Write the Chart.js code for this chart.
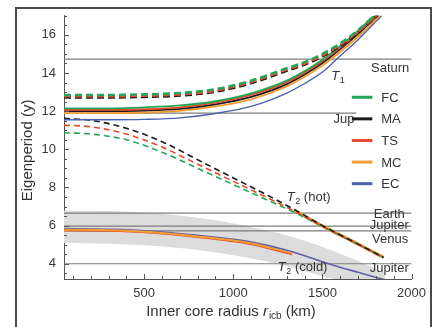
<!DOCTYPE html>
<html>
<head>
<meta charset="utf-8">
<script src="https://cdn.jsdelivr.net/npm/chart.js@4/dist/chart.umd.min.js"></script>
<style>
  html, body { margin: 0; padding: 0; background: #fff; overflow: hidden; }
  canvas { display: block; }
</style>
</head>
<body>
<canvas id="c" width="433" height="327"></canvas>
<script>
// Core compositions and their colours
const seriesNames  = ['FC', 'MA', 'TS', 'MC', 'EC'];
const seriesColors = { FC: '#22a65a', MA: '#1c1c1c', TS: '#e8482c', MC: '#f39c32', EC: '#4b62ad' };

// Axis ticks
const xTickValues = [500, 1000, 1500, 2000];
const yTickValues = [4, 6, 8, 10, 12, 14, 16];

// T1 branch (inner core radius in km -> period in years), solid curves
const t1X    = [50, 300, 500, 700, 900, 1100, 1300, 1400, 1500, 1600, 1700, 1800, 1850];
const t1FC   = [12.15, 12.15, 12.20, 12.30, 12.52, 12.93, 13.60, 14.10, 14.70, 15.42, 16.22, 17.10, 17.55];
const t1TS   = [12.07, 12.07, 12.10, 12.20, 12.45, 12.85, 13.52, 14.02, 14.62, 15.33, 16.12, 17.00, 17.45];
const t1MA   = [12.00, 12.00, 12.03, 12.12, 12.36, 12.75, 13.42, 13.92, 14.52, 15.25, 16.05, 16.95, 17.40];
const t1MC   = [11.90, 11.90, 11.93, 12.02, 12.25, 12.62, 13.30, 13.80, 14.40, 15.10, 15.90, 16.80, 17.30];
const t1EC   = [11.55, 11.55, 11.57, 11.65, 11.88, 12.25, 12.95, 13.45, 14.05, 14.90, 15.75, 16.70, 17.20];

// T1 branch, dashed curves
const t1dFC  = [12.85, 12.85, 12.88, 12.95, 13.15, 13.60, 14.25, 14.57, 15.00, 15.55, 16.25, 17.08, 17.50];
const t1dTS  = [12.78, 12.78, 12.81, 12.88, 13.08, 13.53, 14.18, 14.50, 14.93, 15.48, 16.18, 17.00, 17.43];
const t1dMA  = [12.72, 12.72, 12.75, 12.82, 13.02, 13.47, 14.12, 14.44, 14.87, 15.42, 16.12, 16.95, 17.37];

// T2 (hot) branch, dashed curves
const t2hX   = [50, 200, 400, 600, 800, 1000, 1200, 1350, 1500, 1700, 1843];
const t2hFC  = [10.87, 10.80, 10.50, 9.85, 9.00, 8.15, 7.30, 6.66, 5.95, 5.01, 4.33];
const t2hTS  = [11.27, 11.18, 10.80, 10.12, 9.22, 8.32, 7.42, 6.72, 5.97, 5.02, 4.33];
const t2hMA  = [11.62, 11.52, 11.10, 10.40, 9.45, 8.50, 7.55, 6.80, 6.00, 5.03, 4.33];
// T2 (hot) branch, solid segment
const t2hMCX = [1340, 1500, 1700, 1843];
const t2hMC  = [6.82, 5.98, 5.03, 4.33];

// T2 (cold) branch
const t2cX   = [50, 300, 528, 800, 1087, 1311, 1535, 1700, 1853];
const t2cEC  = [5.84, 5.81, 5.72, 5.49, 5.16, 4.68, 4.00, 3.55, 3.15];
const t2cMCX = [50, 300, 528, 800, 1087, 1330];
const t2cMC  = [5.78, 5.76, 5.67, 5.43, 5.09, 4.55];
const t2cTS  = [5.75, 5.73, 5.64, 5.40, 5.05, 4.50];

// Uncertainty band around T2 (cold)
const bandX     = [50, 300, 528, 834, 1087, 1311, 1500, 1700, 1853];
const bandUpper = [6.78, 6.77, 6.66, 6.37, 5.95, 5.45, 4.88, 4.15, 3.50];
const bandLower = [5.10, 5.05, 4.95, 4.68, 4.30, 3.85, 3.35, 2.90, 2.50];

// Observed periods (horizontal reference levels)
const refNames  = ['Saturn', 'Jup', 'Earth', 'Jupiter', 'Venus', 'Jupiter'];
const refLevels = [14.73, 11.90, 6.65, 5.97, 5.72, 4.00];
const refXStart = [50, 50, 50, 50, 50, 50];
const refXEnd   = [2000, 1690, 2000, 2000, 2000, 2000];

const FONT = "'Liberation Sans', Arial, sans-serif";
const pts = (xs, ys) => xs.map((x, i) => ({ x: x, y: ys[i] }));

function curve(xs, ys, color, width, dash, order) {
  return {
    data: pts(xs, ys), borderColor: color, borderWidth: width, borderDash: dash || [],
    pointRadius: 0, fill: false, cubicInterpolationMode: 'monotone', order: order
  };
}

const datasets = [];
// band (drawn first)
datasets.push({ data: pts(bandX, bandUpper), borderWidth: 0, borderColor: 'rgba(0,0,0,0)',
  backgroundColor: '#dcdcdc', pointRadius: 0, fill: '+1', cubicInterpolationMode: 'monotone', order: 100 });
datasets.push({ data: pts(bandX, bandLower), borderWidth: 0, borderColor: 'rgba(0,0,0,0)',
  pointRadius: 0, fill: false, cubicInterpolationMode: 'monotone', order: 99 });
// reference levels
refLevels.forEach((v, i) => {
  datasets.push({ data: [{ x: refXStart[i], y: v }, { x: refXEnd[i], y: v }],
    borderColor: '#7c7c7c', borderWidth: 1.2, pointRadius: 0, fill: false, order: 90 });
});
// T2 cold
datasets.push(curve(t2cMCX, t2cTS, seriesColors.TS, 2, null, 52));
datasets.push(curve(t2cX, t2cEC, '#5e63a6', 1.6, null, 51));
datasets.push(curve(t2cMCX, t2cMC, seriesColors.MC, 2, null, 50));
// T2 hot
datasets.push(curve(t2hMCX, t2hMC, seriesColors.MC, 3.2, null, 45));
datasets.push(curve(t2hX, t2hFC, seriesColors.FC, 1.6, [6, 4], 44));
datasets.push(curve(t2hX, t2hTS, seriesColors.TS, 1.6, [6, 4], 43));
datasets.push(curve(t2hX, t2hMA, seriesColors.MA, 1.6, [6, 4], 42));
// T1 solid
datasets.push(curve(t1X, t1EC, seriesColors.EC, 1.4, null, 30));
datasets.push(curve(t1X, t1MC, seriesColors.MC, 1.8, null, 29));
datasets.push(curve(t1X, t1MA, seriesColors.MA, 1.8, null, 28));
datasets.push(curve(t1X, t1TS, seriesColors.TS, 1.8, null, 27));
datasets.push(curve(t1X, t1FC, seriesColors.FC, 1.8, null, 26));
// T1 dashed
datasets.push(curve(t1X, t1dMA, seriesColors.MA, 2.6, [7, 4], 12));
datasets.push(curve(t1X, t1dTS, seriesColors.TS, 2.6, [7, 4], 11));
datasets.push(curve(t1X, t1dFC, seriesColors.FC, 2.6, [7, 4], 10));

function subLabel(ctx, x, y, main, sub, rest, size) {
  ctx.textAlign = 'left';
  ctx.textBaseline = 'alphabetic';
  ctx.font = 'italic ' + size + 'px ' + FONT;
  ctx.fillText(main, x, y);
  let cx = x + ctx.measureText(main).width + 0.5;
  ctx.font = Math.round(size * 0.68) + 'px ' + FONT;
  ctx.fillText(sub, cx, y + 3);
  cx += ctx.measureText(sub).width;
  if (rest) {
    ctx.font = size + 'px ' + FONT;
    ctx.fillText(rest, cx, y);
  }
}

const decor = {
  id: 'decor',
  afterDatasetsDraw(chart) {
    const ctx = chart.ctx;
    const xs = chart.scales.x, ys = chart.scales.y;
    const area = chart.chartArea;
    ctx.save();
    // inward tick marks
    ctx.strokeStyle = '#555';
    ctx.lineWidth = 1;
    ctx.beginPath();
    for (let v = 100; v <= 2000; v += 100) {
      const px = Math.round(xs.getPixelForValue(v)) + 0.5;
      const len = v % 500 === 0 ? 5 : 3;
      ctx.moveTo(px, area.bottom); ctx.lineTo(px, area.bottom - len);
    }
    for (let v = 3.5; v <= 17; v += 0.5) {
      const py = Math.round(ys.getPixelForValue(v)) + 0.5;
      const len = (v % 2 === 0) ? 5 : 3;
      ctx.moveTo(area.left, py); ctx.lineTo(area.left + len, py);
    }
    ctx.stroke();

    // level labels
    ctx.fillStyle = '#333';
    ctx.font = '13px ' + FONT;
    ctx.textAlign = 'center';
    ctx.textBaseline = 'alphabetic';
    ctx.fillText('Saturn', xs.getPixelForValue(1880), ys.getPixelForValue(14.73) + 13);
    ctx.textAlign = 'right';
    ctx.fillText('Jup', xs.getPixelForValue(1680), ys.getPixelForValue(11.9) + 10);
    ctx.textAlign = 'center';
    ctx.fillText('Earth', xs.getPixelForValue(1875), ys.getPixelForValue(6.65) + 5);
    ctx.fillText('Jupiter', xs.getPixelForValue(1875), ys.getPixelForValue(5.97) + 3);
    ctx.fillText('Venus', xs.getPixelForValue(1880), ys.getPixelForValue(5.72) + 12);
    ctx.fillText('Jupiter', xs.getPixelForValue(1875), ys.getPixelForValue(4.0) + 8);

    // branch labels
    subLabel(ctx, xs.getPixelForValue(1550), ys.getPixelForValue(14.73) + 21, 'T', '1', '', 13);
    subLabel(ctx, xs.getPixelForValue(1300), ys.getPixelForValue(7.3), 'T', '2', ' (hot)', 13);
    subLabel(ctx, xs.getPixelForValue(1250), ys.getPixelForValue(4.0) + 7, 'T', '2', ' (cold)', 13);

    // legend
    const lx0 = xs.getPixelForValue(1665), lx1 = xs.getPixelForValue(1780), ltx = xs.getPixelForValue(1830);
    seriesNames.forEach((name, i) => {
      const ly = ys.getPixelForValue(12.1) - 12 + i * 21.6;
      ctx.strokeStyle = seriesColors[name];
      ctx.lineWidth = 3;
      ctx.beginPath(); ctx.moveTo(lx0, ly); ctx.lineTo(lx1, ly); ctx.stroke();
      ctx.fillStyle = '#333';
      ctx.font = '13px ' + FONT;
      ctx.textAlign = 'left';
      ctx.textBaseline = 'middle';
      ctx.fillText(name, ltx, ly + 1);
    });

    // axis titles
    ctx.fillStyle = '#333';
    ctx.save();
    ctx.translate(28, (area.top + area.bottom) / 2 + 3);
    ctx.rotate(-Math.PI / 2);
    ctx.font = '15px ' + FONT;
    ctx.textAlign = 'center';
    ctx.textBaseline = 'middle';
    ctx.fillText('Eigenperiod (y)', 0, 0);
    ctx.restore();

    const p1 = 'Inner core radius ', p2 = 'r', p3 = 'icb', p4 = ' (km)';
    ctx.textBaseline = 'alphabetic';
    ctx.textAlign = 'left';
    ctx.font = '15px ' + FONT; const w1 = ctx.measureText(p1).width; const w4 = ctx.measureText(p4).width;
    ctx.font = 'italic 15px ' + FONT; const w2 = ctx.measureText(p2).width;
    ctx.font = '10px ' + FONT; const w3 = ctx.measureText(p3).width;
    let tx = 231 - (w1 + w2 + w3 + w4 + 1) / 2;
    const ty = 316;
    ctx.font = '15px ' + FONT; ctx.fillText(p1, tx, ty); tx += w1;
    ctx.font = 'italic 15px ' + FONT; ctx.fillText(p2, tx, ty); tx += w2 + 1;
    ctx.font = '10px ' + FONT; ctx.fillText(p3, tx, ty + 3); tx += w3;
    ctx.font = '15px ' + FONT; ctx.fillText(p4, tx, ty);
    ctx.restore();
  },
  afterDraw(chart) {
    const ctx = chart.ctx;
    ctx.save();
    ctx.strokeStyle = '#4a4a4a';
    ctx.lineWidth = 2;
    ctx.strokeRect(16, 8, 415, 340);
    ctx.restore();
  }
};

new Chart(document.getElementById('c'), {
  type: 'line',
  data: { datasets: datasets },
  options: {
    responsive: false,
    animation: false,
    events: [],
    layout: { padding: { top: 15, right: 20, left: 0, bottom: 0 } },
    plugins: { legend: { display: false }, tooltip: { enabled: false }, title: { display: false } },
    scales: {
      x: {
        type: 'linear', min: 50, max: 2000,
        grid: { display: false, drawTicks: false, tickLength: 0 },
        border: { display: true, color: '#555', width: 1 },
        afterBuildTicks: s => { s.ticks = xTickValues.map(v => ({ value: v })); },
        afterFit: s => { s.height = 48; },
        ticks: { color: '#3a3a3a', padding: 7, font: { family: FONT, size: 13 }, maxRotation: 0,
                 callback: v => String(v) }
      },
      y: {
        type: 'linear', min: 3.2, max: 17,
        grid: { display: false, drawTicks: false, tickLength: 0 },
        border: { display: true, color: '#555', width: 1 },
        afterBuildTicks: s => { s.ticks = yTickValues.map(v => ({ value: v })); },
        afterFit: s => { s.width = 64; },
        ticks: { color: '#3a3a3a', padding: 8, font: { family: FONT, size: 13 }, callback: v => String(v) }
      }
    }
  },
  plugins: [decor]
});
</script>
</body>
</html>
